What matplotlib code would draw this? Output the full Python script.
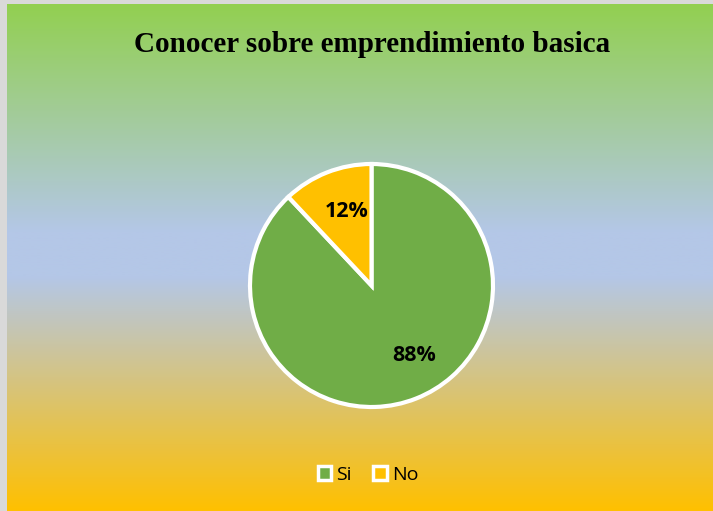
import numpy as np
import matplotlib.pyplot as plt
from matplotlib.colors import LinearSegmentedColormap
from matplotlib.patches import Patch

labels = ['Si', 'No']
values = [88, 12]
colors = ['#70AD47', '#FFC000']
title = 'Conocer sobre emprendimiento basica'

W, H = 713, 511
fig = plt.figure(figsize=(W / 100, H / 100), dpi=100)
fig.patch.set_facecolor('#D9D9D9')

# gradient backdrop: green -> light blue -> gold
bg = fig.add_axes([7 / W, 0, 1 - 7 / W, (H - 4) / H])
cmap = LinearSegmentedColormap.from_list(
    'bg', [(0.0, '#92D050'), (0.45, '#B4C7E7'), (0.54, '#B4C7E7'),
           (1.0, '#FFC000')])
grad = np.linspace(0, 1, 256).reshape(-1, 1)
bg.imshow(grad, cmap=cmap, aspect='auto', extent=[0, 1, 1, 0])
bg.set_axis_off()

fig.text(372 / W, 1 - 44 / H, title, ha='center', va='center',
         fontsize=21, fontweight='bold', family='Liberation Serif')

# pie axes, radius ~121 px
r = 121.5
cx, cy = 371.5, H - 285.5
ax = fig.add_axes([(cx - r) / W, (cy - r) / H, 2 * r / W, 2 * r / H])
wedges, _ = ax.pie(values, colors=colors, startangle=90, counterclock=False,
                   radius=1.0, wedgeprops=dict(edgecolor='white', linewidth=3))
ax.set_xlim(-1, 1)
ax.set_ylim(-1, 1)
ax.set_aspect('equal')
ax.set_axis_off()
for w in wedges:
    w.set_clip_on(False)

# percentage labels (angle in degrees, distance as fraction of radius)
label_pos = [(-58.7, 0.67), (108.4, 0.64)]
for v, (ang, d) in zip(values, label_pos):
    a = np.deg2rad(ang)
    ax.text(d * np.cos(a), d * np.sin(a), f'{v}%', ha='center', va='center',
            fontsize=15.5, fontweight='bold', family='Open Sans')

handles = [Patch(facecolor=c, edgecolor='white', linewidth=2.5) for c in colors]
fig.legend(handles, labels, loc='center', bbox_to_anchor=(368 / W, 1 - 475 / H),
           ncol=2, frameon=False, prop={'family': 'Open Sans', 'size': 14},
           handlelength=0.7, handleheight=0.7, handletextpad=0.25,
           columnspacing=1.1)

fig.savefig('out.png', dpi=100)
